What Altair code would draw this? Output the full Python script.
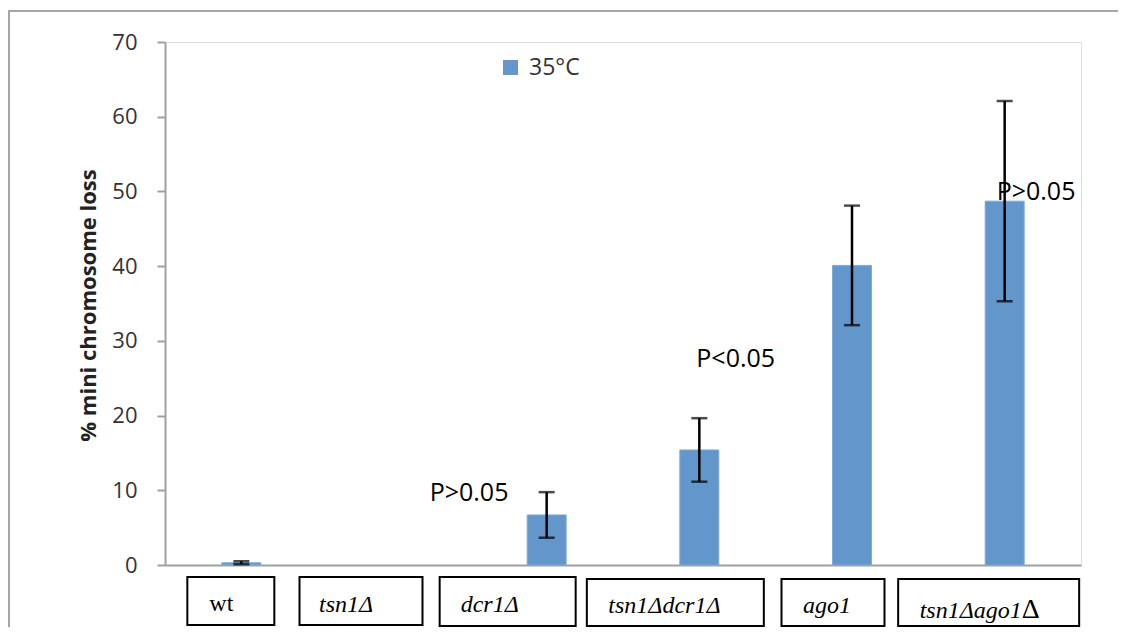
import altair as alt
import pandas as pd

# ---------------- data ----------------
strains = ["wt", "tsn1Δ", "dcr1Δ", "tsn1Δdcr1Δ", "ago1", "tsn1Δago1Δ"]
loss = [0.3, 0.0, 6.7, 15.4, 40.1, 48.7]
err = [0.2, 0.0, 3.05, 4.25, 8.0, 13.4]
series = "35°C"

label_main = ["wt", "tsn1Δ", "dcr1Δ", "tsn1Δdcr1Δ", "ago1", "tsn1Δago1"]
label_suffix = ["", "", "", "", "", "Δ"]

p_strain = ["dcr1Δ", "tsn1Δdcr1Δ", "tsn1Δago1Δ"]
p_text = ["P>0.05", "P<0.05", "P>0.05"]
p_y = [8.5, 26.5, 48.9]

y_ticks = [0, 10, 20, 30, 40, 50, 60, 70]

# ---------------- tables ----------------
df = pd.DataFrame({"strain": strains, "loss": loss, "err": err})
df["lo"] = df["loss"] - df["err"]
df["hi"] = df["loss"] + df["err"]
df["series"] = series
df_bar = df[df["loss"] > 0]
df_err = df[df["err"] > 0]

# ---------------- style / layout (pixels, not data) ----------------
BAR = "#6396CB"
AXIS_GREY = "#a0a0a0"
FRAME_GREY = "#a6a6a6"
W, H = 916, 523
# per-label box: width, x-offset of box centre from band centre, top, bottom, text dx, text baseline
box_style = [
    (87, -10.5, 535, 583, -32, 569),
    (123, -33, 535, 583, -75, 570),
    (136, -39, 535, 584, -86, 570),
    (177, -24, 537, 584, -91, 571),
    (103, -19, 537, 584, -49, 571),
    (181, -16, 537, 584, -85, 576),
]
p_dx = [-117, -3, -8]

xenc = alt.X("strain:N", sort=strains,
             axis=alt.Axis(labels=False, ticks=False, title=None, domainColor=AXIS_GREY,
                           domainWidth=2, grid=False))

# outer chart frame (left and top edges only are inside the picture), as thin filled strips
one_row = pd.DataFrame({"k": [0]})
frame_left = alt.Chart(one_row).mark_rect(fill=FRAME_GREY, strokeWidth=0).encode(
    x=alt.value(-157), x2=alt.value(-155), y=alt.value(-32), y2=alt.value(640))
frame_top = alt.Chart(one_row).mark_rect(fill=FRAME_GREY, strokeWidth=0).encode(
    x=alt.value(-157), x2=alt.value(990), y=alt.value(-32), y2=alt.value(-30))

bars = alt.Chart(df_bar).mark_bar(size=39, stroke="#80acd8", strokeWidth=1).encode(
    x=xenc,
    y=alt.Y("loss:Q", scale=alt.Scale(domain=[0, 70]),
            axis=alt.Axis(values=y_ticks, grid=False, domainColor=AXIS_GREY, domainWidth=2,
                          tickColor=AXIS_GREY, tickWidth=2, tickSize=8,
                          labelFont="Open Sans", labelFontSize=22, labelColor="#333333",
                          labelPadding=20,
                          title="% mini chromosome loss", titleFont="Open Sans",
                          titleFontSize=22, titleFontWeight="bold", titleColor="#222222",
                          titleX=-77, titleY=263, titleBaseline="middle", titleAlign="center")),
    color=alt.Color("series:N", scale=alt.Scale(range=[BAR]),
                    legend=alt.Legend(title=None, orient="none", legendX=334, legendY=14,
                                      symbolType="square", symbolSize=225, symbolStrokeWidth=0,
                                      labelFont="Open Sans", labelFontSize=23,
                                      labelColor="#333333", labelOffset=7, padding=0)),
)

rules = alt.Chart(df_err).mark_rule(color="black", strokeWidth=2.5).encode(
    x=xenc, y="lo:Q", y2="hi:Q")
cap_hi = alt.Chart(df_err).mark_tick(color="black", thickness=2.5, size=16).encode(
    x=xenc, y="hi:Q")
cap_lo = alt.Chart(df_err).mark_tick(color="black", thickness=2.5, size=16).encode(
    x=xenc, y="lo:Q")

layers = [frame_left, frame_top, bars, rules, cap_hi, cap_lo]

for i, s in enumerate(strains):
    bw, bdx, top, bot, tdx, tb = box_style[i]
    one = pd.DataFrame({"strain": [s], "main": [label_main[i]], "suffix": [label_suffix[i]]})
    layers.append(
        alt.Chart(one).mark_bar(width=bw, xOffset=bdx, fill="white", stroke="black",
                                strokeWidth=2).encode(x=xenc, y=alt.value(top), y2=alt.value(bot))
    )
    layers.append(
        alt.Chart(one).mark_text(align="left", baseline="alphabetic", dx=tdx,
                                 font="Liberation Serif", fontSize=24,
                                 fontStyle="normal" if i == 0 else "italic",
                                 color="black").encode(x=xenc, y=alt.value(tb), text="main:N")
    )
    if label_suffix[i]:
        layers.append(
            alt.Chart(one).mark_text(align="left", baseline="alphabetic", dx=tdx + 102,
                                     font="Liberation Serif", fontSize=28, color="black"
                                     ).encode(x=xenc, y=alt.value(tb), text="suffix:N")
        )

for i, s in enumerate(p_strain):
    one = pd.DataFrame({"strain": [s], "t": [p_text[i]], "y": [p_y[i]]})
    layers.append(
        alt.Chart(one).mark_text(align="left", baseline="alphabetic", dx=p_dx[i],
                                 font="Open Sans", fontSize=25, color="black").encode(
            x=xenc, y=alt.Y("y:Q"), text="t:N")
    )

chart = alt.layer(*layers).properties(
    width=W, height=H,
    autosize=alt.AutoSizeParams(type="none"),
    padding={"left": 157, "top": 34, "right": 37, "bottom": 62},
).configure_view(stroke=None).configure(background="white")

chart.save("out.html", embed_options={"renderer": "svg", "actions": False})
